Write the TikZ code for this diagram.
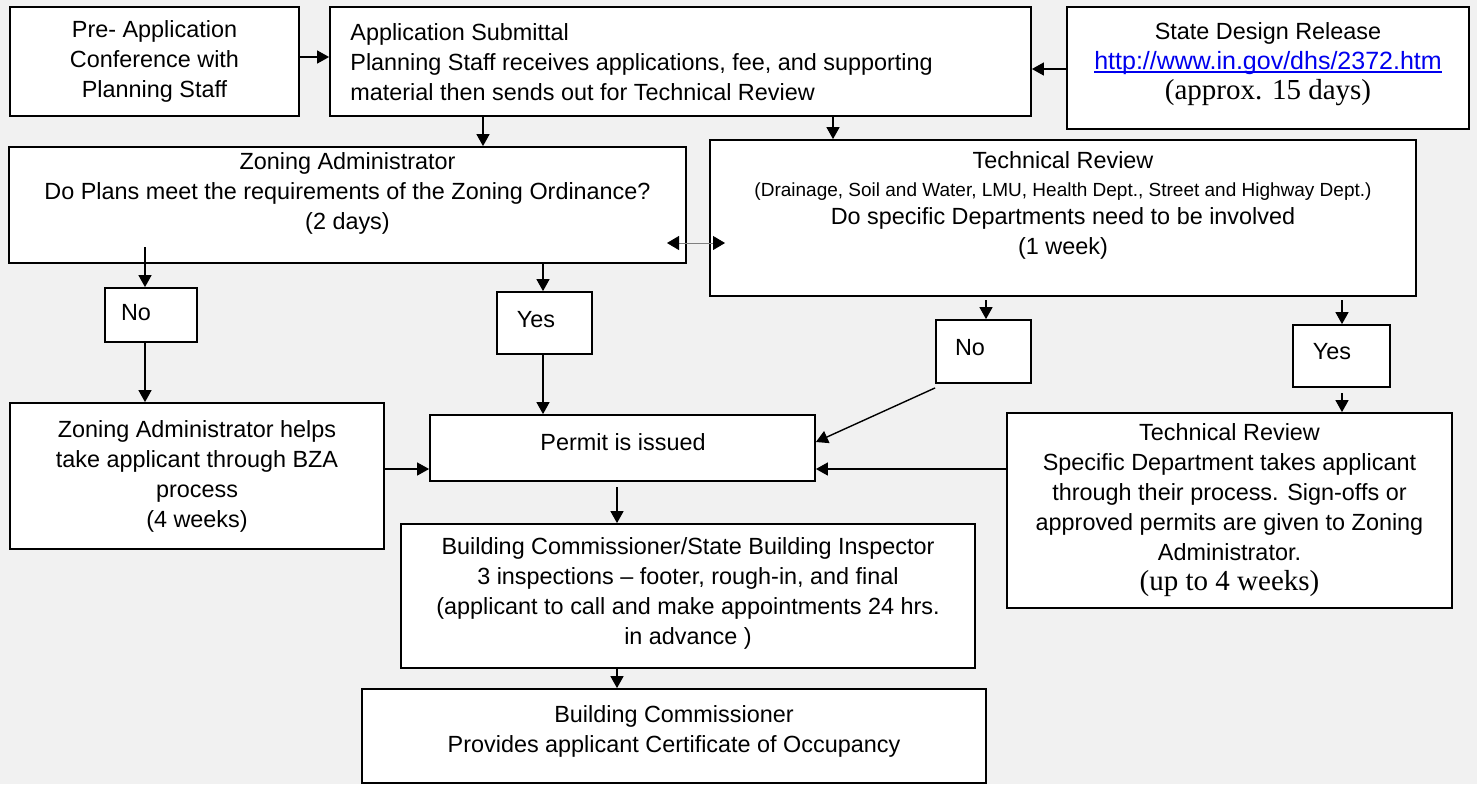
\documentclass[tikz,border=0pt]{standalone}
\usepackage{fontspec}
\setmainfont{Liberation Sans}
\newfontfamily\serifA{Liberation Serif}
\usetikzlibrary{arrows.meta}
\definecolor{bgc}{HTML}{F1F1F1}
\definecolor{linkblue}{HTML}{0000EE}
\newcommand\myul[1]{\setbox0\hbox{#1}\rlap{\rule[-1.6pt]{\wd0}{0.6pt}}\box0}
\tikzset{
  every node/.style={font=\fontsize{11.7}{15}\selectfont, inner sep=0pt},
  box/.style={draw=black, fill=white, line width=0.9pt, align=center},
  txt/.style={align=center},
  arr/.style={-{Triangle[length=6pt,width=6.5pt]}, line width=0.7pt},
  dbl/.style={{Triangle[length=6pt,width=7pt,fill=black,color=black]}-{Triangle[length=6pt,width=7pt,fill=black,color=black]}, line width=0.4pt, draw=gray},
}
\begin{document}
\begin{tikzpicture}[x=0.5pt,y=-0.5pt]
\fill[bgc] (0,0) rectangle (1477,784);
\useasboundingbox (0,0) rectangle (1477,784);

% boxes
\node[box, minimum width=144.5pt, minimum height=54.5pt] (PA) at (154.5,61.5) {Pre- Application\\Conference with\\Planning Staff};
\node[box, minimum width=350.5pt, minimum height=54.5pt] (AS) at (680.5,61.5) {};
\node[txt, anchor=west, align=left] (AStxt) at (350,62) {Application Submittal\\Planning Staff receives applications, fee, and supporting\\material then sends out for Technical Review};
\node[box, minimum width=201pt, minimum height=61pt] (SDR) at (1268,68) {};
\node[txt] (SDRtxt) at (1268,64) {State Design Release\\{\fontsize{12.5}{15}\selectfont\color{linkblue}\myul{http://www.in.gov/dhs/2372.htm}}\\{\serifA\fontsize{14.5}{15}\selectfont (approx. 15 days)}};

\node[box, minimum width=338.5pt, minimum height=58pt] (ZA) at (347.5,205) {};
\node[txt] (ZAtxt) at (347.5,193) {Zoning Administrator\\Do Plans meet the requirements of the Zoning Ordinance?\\(2 days)};

\node[box, minimum width=353pt, minimum height=78pt] (TR) at (1063,218) {};
\node[txt] (TRtxt) at (1063,205) {Technical Review\\[-1pt]{\fontsize{9.5}{12}\selectfont (Drainage, Soil and Water, LMU, Health Dept., Street and Highway Dept.)}\\[-1pt]Do specific Departments need to be involved\\(1 week)};

\node[box, minimum width=46pt, minimum height=27pt] (NoL) at (151,315) {};
\node (NoLtxt) at (136,313) {No};
\node[box, minimum width=47.5pt, minimum height=31pt] (YesL) at (544.5,323) {};
\node (YesLtxt) at (536,320) {Yes};
\node[box, minimum width=47.5pt, minimum height=31.5pt] (NoR) at (983.5,351.5) {};
\node (NoRtxt) at (970,348) {No};
\node[box, minimum width=48.5pt, minimum height=31pt] (YesR) at (1341.5,356) {};
\node (YesRtxt) at (1332,352) {Yes};

\node[box, minimum width=187pt, minimum height=73pt] (ZAH) at (197,476) {Zoning Administrator helps\\take applicant through BZA\\process\\(4 weeks)};
\node[box, minimum width=192.5pt, minimum height=33pt] (PI) at (622.5,448) {};
\node (PItxt) at (623,442) {Permit is issued};
\node[box, minimum width=222.5pt, minimum height=97.5pt] (TR2) at (1229.5,510.5) {Technical Review\\Specific Department takes applicant\\through their process. Sign-offs or\\approved permits are given to Zoning\\Administrator.\\{\serifA\fontsize{14.5}{15}\selectfont (up to 4 weeks)}};
\node[box, minimum width=287pt, minimum height=72pt] (BCSBI) at (688,596) {};
\node[txt] (BCSBItxt) at (688,593) {Building Commissioner/State Building Inspector\\3 inspections – footer, rough-in, and final\\(applicant to call and make appointments 24 hrs.\\in advance )};
\node[box, minimum width=312pt, minimum height=47pt] (BC) at (674,736) {};
\node[txt] (BCtxt) at (674,731) {Building Commissioner\\Provides applicant Certificate of Occupancy};

% connectors
\draw[arr] ([yshift=2.25pt]PA.east) -- ([yshift=2.25pt]PA.east -| AS.west);
\coordinate (c1) at (483,0);
\draw[arr] (c1 |- AS.south) -- (c1 |- ZA.north);
\coordinate (c2) at (833,0);
\draw[arr] (c2 |- AS.south) -- (c2 |- TR.north);
\draw[arr] ([yshift=-0.5pt]SDR.west) -- ([yshift=-0.5pt]SDR.west -| AS.east);
\coordinate (d1) at (667,243);
\coordinate (d2) at (725,243);
\draw[dbl] (d1) -- (d2);
\coordinate (c3) at (145,247);
\draw[arr] (c3) -- (c3 |- NoL.north);
\coordinate (c4) at (543,0);
\draw[arr] (c4 |- ZA.south) -- (c4 |- YesL.north);
\draw[arr] (c3 |- NoL.south) -- (c3 |- ZAH.north);
\draw[arr] (c4 |- YesL.south) -- (c4 |- PI.north);
\coordinate (c5) at (0,469);
\draw[arr] (ZAH.east |- c5) -- (PI.west |- c5);
\draw[arr] (TR2.west |- c5) -- (PI.east |- c5);
\draw[arr] ([yshift=-2pt]NoR.south west) -- ([yshift=3pt]PI.east);
\coordinate (c6) at (986,300);
\draw[arr] (c6) -- (c6 |- NoR.north);
\coordinate (c7) at (1342,300);
\draw[arr] (c7) -- (c7 |- YesR.north);
\coordinate (c8) at (1342,393);
\draw[arr] (c8) -- (c8 |- TR2.north);
\coordinate (c9) at (617,487);
\draw[arr] (c9) -- (c9 |- BCSBI.north);
\coordinate (c10) at (617,0);
\draw[arr] (c10 |- BCSBI.south) -- (c10 |- BC.north);
\end{tikzpicture}
\end{document}
